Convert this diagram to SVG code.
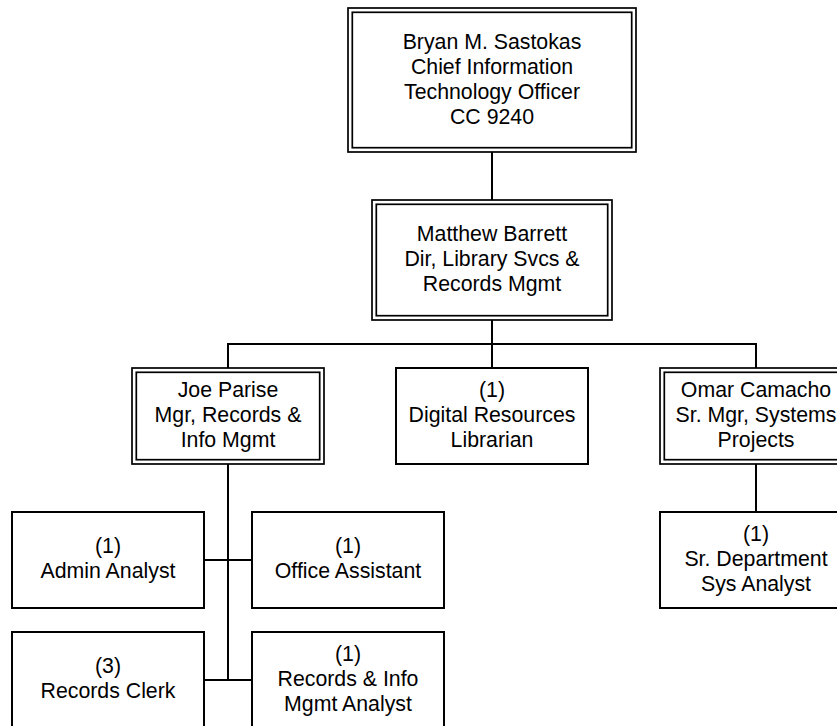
<svg xmlns="http://www.w3.org/2000/svg" width="837" height="726" viewBox="0 0 837 726">
<style>
  .box { fill: #ffffff; stroke: #000000; stroke-width: 2; }
  .dbl { fill: none; stroke: #000000; stroke-width: 1.7; }
  .conn { fill: none; stroke: #000000; stroke-width: 2; }
  text { font-family: "Liberation Sans", Arial, sans-serif; font-size: 21.3px; fill: #000000; text-anchor: middle; }
</style>
<rect x="0" y="0" width="837" height="726" fill="#ffffff"/>
<g id="connectors">
  <line class="conn" x1="492" y1="152" x2="492" y2="200"/>
  <line class="conn" x1="492" y1="320" x2="492" y2="368"/>
  <polyline class="conn" points="228,368 228,344 756,344 756,368"/>
  <line class="conn" x1="756" y1="464" x2="756" y2="512"/>
  <line class="conn" x1="228" y1="464" x2="228" y2="680"/>
  <line class="conn" x1="204" y1="560" x2="252" y2="560"/>
  <line class="conn" x1="204" y1="680" x2="252" y2="680"/>
</g>
<g id="node-sastokas">
  <rect class="dbl" x="348" y="8" width="288" height="144" fill="#ffffff"/>
  <rect class="dbl" x="352.3" y="12.3" width="279.4" height="135.4"/>
  <text x="492" y="49">Bryan M. Sastokas</text>
  <text x="492" y="74">Chief Information</text>
  <text x="492" y="99">Technology Officer</text>
  <text x="492" y="124">CC 9240</text>
</g>
<g id="node-barrett">
  <rect class="dbl" x="372" y="200" width="240" height="120"/>
  <rect class="dbl" x="376.3" y="204.3" width="231.4" height="111.4"/>
  <text x="492" y="240.5">Matthew Barrett</text>
  <text x="492" y="265.5">Dir, Library Svcs &amp;</text>
  <text x="492" y="290.5">Records Mgmt</text>
</g>
<g id="node-parise">
  <rect class="dbl" x="132" y="368" width="192" height="96"/>
  <rect class="dbl" x="136.3" y="372.3" width="183.4" height="87.4"/>
  <text x="228" y="397">Joe Parise</text>
  <text x="228" y="422">Mgr, Records &amp;</text>
  <text x="228" y="447">Info Mgmt</text>
</g>
<g id="node-digital">
  <rect class="box" x="396" y="368" width="192" height="96"/>
  <text x="492" y="397">(1)</text>
  <text x="492" y="422">Digital Resources</text>
  <text x="492" y="447">Librarian</text>
</g>
<g id="node-camacho">
  <rect class="dbl" x="660" y="368" width="192" height="96"/>
  <rect class="dbl" x="664.3" y="372.3" width="183.4" height="87.4"/>
  <text x="756" y="397">Omar Camacho</text>
  <text x="756" y="422">Sr. Mgr, Systems</text>
  <text x="756" y="447">Projects</text>
</g>
<g id="node-srdept">
  <rect class="box" x="660" y="512" width="192" height="96"/>
  <text x="756" y="540.5">(1)</text>
  <text x="756" y="565.5">Sr. Department</text>
  <text x="756" y="590.5">Sys Analyst</text>
</g>
<g id="node-admin">
  <rect class="box" x="12" y="512" width="192" height="96"/>
  <text x="108" y="553">(1)</text>
  <text x="108" y="578">Admin Analyst</text>
</g>
<g id="node-office">
  <rect class="box" x="252" y="512" width="192" height="96"/>
  <text x="348" y="553">(1)</text>
  <text x="348" y="578">Office Assistant</text>
</g>
<g id="node-clerk">
  <rect class="box" x="12" y="632" width="192" height="96"/>
  <text x="108" y="673">(3)</text>
  <text x="108" y="698">Records Clerk</text>
</g>
<g id="node-rimanalyst">
  <rect class="box" x="252" y="632" width="192" height="96"/>
  <text x="348" y="660.5">(1)</text>
  <text x="348" y="685.5">Records &amp; Info</text>
  <text x="348" y="710.5">Mgmt Analyst</text>
</g>
</svg>
